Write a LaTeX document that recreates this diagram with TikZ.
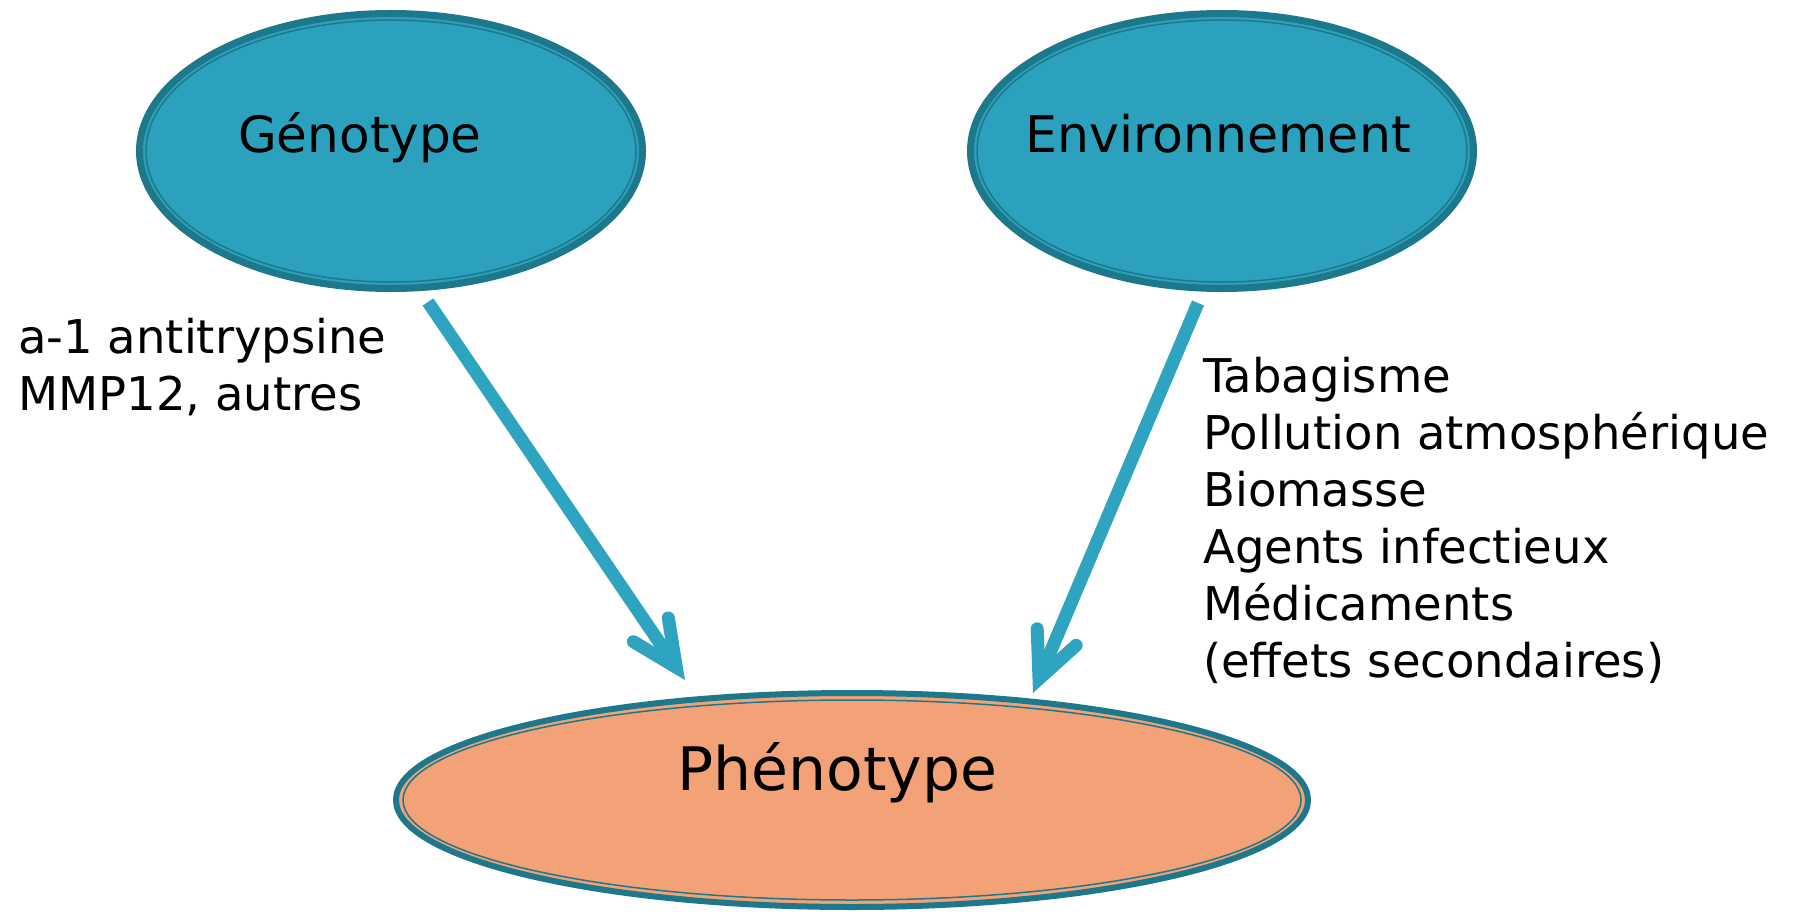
\documentclass[tikz,border=0pt]{standalone}
\usepackage{fontspec}
\setmainfont{DejaVu Sans}
\usetikzlibrary{shapes.geometric,calc}

\definecolor{tealfill}{RGB}{44,161,190}
\definecolor{tealedge}{RGB}{30,120,140}
\definecolor{peach}{RGB}{242,162,118}
\definecolor{arrowblue}{RGB}{46,164,192}

\tikzset{
  blueblob/.style={ellipse, fill=tealfill, draw=tealedge, line width=7pt,
    minimum width=503pt, minimum height=275pt, inner sep=0pt},
  peachblob/.style={ellipse, fill=peach, draw=tealedge, line width=6pt,
    minimum width=912pt, minimum height=214pt, inner sep=0pt},
  innerring/.style={draw=tealedge, line width=1.5pt},
  shaft/.style={draw=arrowblue, line width=13pt, line cap=butt},
  barb/.style={draw=arrowblue, line width=13pt, line cap=round, line join=miter},
  title/.style={anchor=base west, inner sep=0pt, text=black},
  lbl/.style={anchor=base west, inner sep=0pt, align=left,
    font=\fontsize{46.5}{57}\selectfont}
}

\begin{document}
\begin{tikzpicture}[x=1pt,y=-1pt]
\path[use as bounding box, fill=white] (0,0) rectangle (1798,912);

% the three ellipses
\node[blueblob]  (geno)  at (391,151) {};
\node[blueblob]  (envi)  at (1222,151) {};
\node[peachblob] (pheno) at (852,800) {};

\draw[innerring] (geno.center)  ellipse [x radius=245pt, y radius=131pt];
\draw[innerring] (envi.center)  ellipse [x radius=245pt, y radius=131pt];
\draw[innerring] (pheno.center) ellipse [x radius=449pt, y radius=100pt];

% titles
\node[title, font=\fontsize{50}{60}\selectfont] (genotxt) at ($(geno.center)+(-153,2)$) {Génotype};
\node[title, font=\fontsize{50.5}{60}\selectfont] (envitxt) at ($(envi.center)+(-197,2)$) {Environnement};
\node[title, font=\fontsize{60}{70}\selectfont] (phenotxt) at ($(pheno.center)+(-175,-10)$) {Phénotype};

% arrows
\coordinate (gs) at ($(geno.center)+(37,151)$);
\coordinate (gt) at (676.3,667.3);
\coordinate (es) at ($(envi.center)+(-24,152)$);
\coordinate (et) at (1039,678.8);

\draw[shaft] (gs) -- (gt);
\draw[barb] ($(gt)!50pt!25:(gs)$) -- (gt) -- ($(gt)!50pt!-25:(gs)$);
\draw[shaft] (es) -- (et);
\draw[barb] ($(et)!50pt!25:(es)$) -- (et) -- ($(et)!50pt!-25:(es)$);

% factor lists (anchored on the baseline of their last line)
\node[lbl] (genes) at (18,410) {a-1 antitrypsine\\MMP12, autres};
\node[lbl] (facteurs) at (1203,677) {Tabagisme\\Pollution atmosphérique\\Biomasse\\Agents infectieux\\Médicaments\\(effets secondaires)};
\end{tikzpicture}
\end{document}
